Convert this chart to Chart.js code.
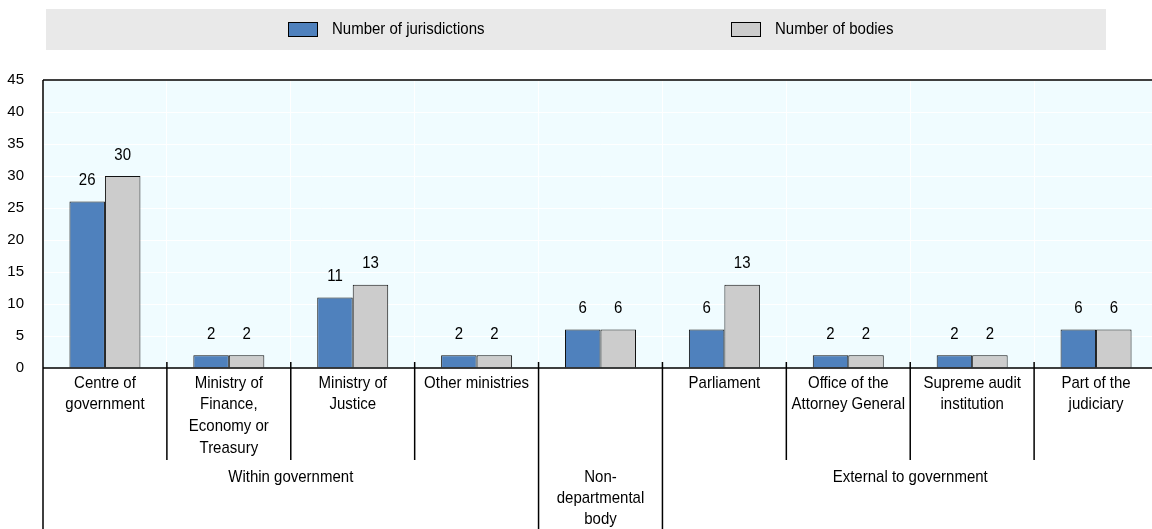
<!DOCTYPE html>
<html>
<head>
<meta charset="utf-8">
<script src="https://cdn.jsdelivr.net/npm/chart.js@4.4.1/dist/chart.umd.min.js"></script>
<style>
  html, body { margin: 0; padding: 0; background: #fff; overflow: hidden; }
  #wrap { width: 1158px; height: 529px; }
</style>
</head>
<body>
<div id="wrap"><canvas id="grafica" width="1158" height="529"></canvas></div>
<script>
// Datos del gráfico
const categorias = [
  ['Centre of', 'government'],
  ['Ministry of', 'Finance,', 'Economy or', 'Treasury'],
  ['Ministry of', 'Justice'],
  ['Other ministries'],
  [''],
  ['Parliament'],
  ['Office of the', 'Attorney General'],
  ['Supreme audit', 'institution'],
  ['Part of the', 'judiciary']
];
const jurisdicciones = [26, 2, 11, 2, 6, 6, 2, 2, 6];
const organismos = [30, 2, 13, 2, 6, 13, 2, 2, 6];
const grupos = [
  { nombre: ['Within government'], desde: 0, hasta: 3 },
  { nombre: ['Non-', 'departmental', 'body'], desde: 4, hasta: 4 },
  { nombre: ['External to government'], desde: 5, hasta: 8 }
];
const nombresSeries = ['Number of jurisdictions', 'Number of bodies'];
const ticksY = [0, 5, 10, 15, 20, 25, 30, 35, 40, 45];

const AZUL = '#4f81bd';
const GRIS = '#cccccc';
const FUENTE = '15px "Liberation Sans", Arial, sans-serif';
const ESTIRA = 1.12; // el texto original es algo más alto que ancho

function texto(ctx, t, x, y) {
  ctx.save();
  ctx.translate(x, y);
  ctx.scale(1, ESTIRA);
  ctx.fillText(t, 0, 0);
  ctx.restore();
}

// Fondo del área de gráfico
const fondoPlugin = {
  id: 'fondo',
  beforeDraw(chart) {
    const { ctx, chartArea: a } = chart;
    ctx.save();
    ctx.fillStyle = '#f0fcff';
    ctx.fillRect(a.left, a.top, a.right - a.left, a.bottom - a.top);
    ctx.restore();
  }
};

// Leyenda, etiquetas de valores y etiquetas de categorías
const extrasPlugin = {
  id: 'extras',
  afterDatasetsDraw(chart) {
    const ctx = chart.ctx;
    ctx.save();
    ctx.font = FUENTE;
    ctx.fillStyle = '#000';
    ctx.textAlign = 'center';
    ctx.textBaseline = 'middle';
    chart.data.datasets.forEach((ds, di) => {
      chart.getDatasetMeta(di).data.forEach((bar, i) => {
        texto(ctx, String(ds.data[i]), bar.x, bar.y - 21);
      });
    });
    ctx.restore();
  },
  afterDraw(chart) {
    const { ctx, chartArea: a } = chart;
    const xs = chart.scales.x;
    const alto = chart.height;

    ctx.save();
    // Leyenda
    ctx.fillStyle = '#e9e9e9';
    ctx.fillRect(46, 9, 1060, 41);
    const cajas = [{ x: 288, color: AZUL }, { x: 731, color: GRIS }];
    ctx.font = FUENTE;
    ctx.textBaseline = 'middle';
    ctx.textAlign = 'left';
    cajas.forEach((c, i) => {
      ctx.fillStyle = c.color;
      ctx.fillRect(c.x, 22, 30, 15);
      ctx.strokeStyle = '#000';
      ctx.lineWidth = 1;
      ctx.strokeRect(c.x + 0.5, 22.5, 29, 14);
      ctx.fillStyle = '#000';
      texto(ctx, nombresSeries[i], c.x + 44, 29.5);
    });

    // Bordes del área
    ctx.strokeStyle = '#000';
    ctx.lineWidth = 1.5;
    ctx.beginPath();
    ctx.moveTo(a.left, a.top);
    ctx.lineTo(a.right, a.top);
    ctx.moveTo(a.left, a.bottom);
    ctx.lineTo(a.right, a.bottom);
    ctx.moveTo(a.left, a.top);
    ctx.lineTo(a.left, alto);
    ctx.stroke();

    // Separadores entre categorías
    const finGrupo = grupos.map(g => g.hasta);
    for (let i = 0; i < categorias.length - 1; i++) {
      const xb = (xs.getPixelForValue(i) + xs.getPixelForValue(i + 1)) / 2;
      const yFin = finGrupo.includes(i) ? alto : 460;
      ctx.beginPath();
      ctx.moveTo(xb, a.bottom - 6);
      ctx.lineTo(xb, yFin);
      ctx.stroke();
    }

    // Etiquetas de categorías
    ctx.fillStyle = '#000';
    ctx.textAlign = 'center';
    categorias.forEach((lineas, i) => {
      const cx = xs.getPixelForValue(i);
      lineas.forEach((l, k) => texto(ctx, l, cx, 383 + k * 21.8));
    });

    // Etiquetas de grupos
    const mitad = (xs.getPixelForValue(1) - xs.getPixelForValue(0)) / 2;
    grupos.forEach(g => {
      const x0 = xs.getPixelForValue(g.desde) - mitad;
      const x1 = xs.getPixelForValue(g.hasta) + mitad;
      g.nombre.forEach((l, k) => texto(ctx, l, (x0 + x1) / 2, 477 + k * 21));
    });
    ctx.restore();
  }
};

const ctx = document.getElementById('grafica').getContext('2d');
window.grafica = new Chart(ctx, {
  type: 'bar',
  data: {
    labels: categorias.map(c => c.join(' ')),
    datasets: [
      {
        label: nombresSeries[0],
        data: jurisdicciones,
        backgroundColor: AZUL,
        borderColor: '#111',
        borderWidth: 1
      },
      {
        label: nombresSeries[1],
        data: organismos,
        backgroundColor: GRIS,
        borderColor: '#111',
        borderWidth: 1
      }
    ]
  },
  options: {
    responsive: false,
    animation: false,
    layout: { padding: { top: 80, bottom: 161, left: 0, right: 0 } },
    datasets: { bar: { categoryPercentage: 0.573, barPercentage: 1 } },
    plugins: {
      legend: { display: false },
      tooltip: { enabled: false }
    },
    scales: {
      x: {
        ticks: { display: false },
        grid: { color: '#ffffff', lineWidth: 1, offset: true, drawTicks: false },
        border: { display: false },
        afterFit(scale) { scale.height = 0; }
      },
      y: {
        min: 0,
        max: 45,
        afterBuildTicks(scale) { scale.ticks = ticksY.map(v => ({ value: v })); },
        ticks: {
          color: '#000',
          padding: 19,
          font: { family: '"Liberation Sans", Arial, sans-serif', size: 15 }
        },
        grid: { color: '#ffffff', lineWidth: 1, drawTicks: false },
        border: { display: false },
        afterFit(scale) { scale.width = 43; }
      }
    }
  },
  plugins: [fondoPlugin, extrasPlugin]
});
</script>
</body>
</html>
